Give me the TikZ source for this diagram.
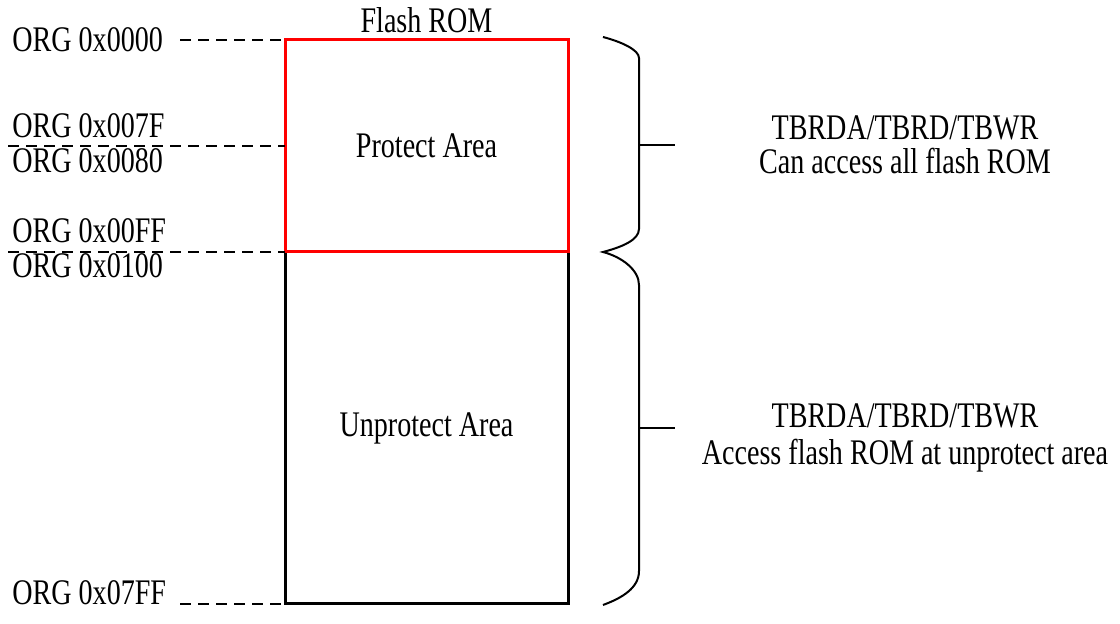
\documentclass[tikz,border=0pt]{standalone}
\usepackage{fontspec}
\setmainfont{Liberation Serif}[FakeStretch=0.78]
\usetikzlibrary{positioning}

\begin{document}
\begin{tikzpicture}[
    x=0.5pt, y=-0.5pt,
    txt/.style={font=\fontsize{18}{18}\selectfont, inner sep=0pt},
    area/.style={draw, line width=1.5pt, outer sep=0pt,
                 minimum width=141.5pt, font=\fontsize{18}{18}\selectfont},
    addr/.style={line width=1pt, dash pattern=on 5.5pt off 3.5pt},
    brace/.style={line width=1pt}
  ]
  \useasboundingbox (0,0) rectangle (1120,624);

  % flash rom map
  \node[area, minimum height=176pt] (unprot) at (426.5,428) {Unprotect Area};
  \node[area, draw=red, minimum height=106pt, above=0pt of unprot] (prot)
    {Protect Area};
  \node[txt, anchor=base] (rom) at (426.5,33) {Flash ROM};

  % addresses
  \node[txt, anchor=base west] (a0000) at (12,52)  {ORG 0x0000};
  \node[txt, anchor=base west] (a007f) at (12,138) {ORG 0x007F};
  \node[txt, anchor=base west] (a0080) at (12,173) {ORG 0x0080};
  \node[txt, anchor=base west] (a00ff) at (12,243) {ORG 0x00FF};
  \node[txt, anchor=base west] (a0100) at (12,278) {ORG 0x0100};
  \node[txt, anchor=base west] (a07ff) at (12,605) {ORG 0x07FF};
  \coordinate (d0) at (180,40);
  \coordinate (d1) at (8,146);
  \coordinate (d2) at (8,252);
  \coordinate (d3) at (180,604);
  \draw[addr] (d0) -- (prot.north west);
  \draw[addr] (d1) -- (prot.west);
  \draw[addr] (d2) -- (prot.south west);
  \draw[addr] (d3) -- (unprot.south west);

  % braces
  \draw[brace] (603,37) .. controls (622,42) and (639,50) .. (639,58)
    -- (639,229) .. controls (639,240) and (622,247) .. (603,252)
    .. controls (622,257) and (639,270) .. (639,285)
    -- (639,571) .. controls (639,588) and (622,598) .. (603,605);
  \coordinate (b1) at (639,145);
  \coordinate (b2) at (639,428);
  \draw[brace] (b1) -- ++(36,0);
  \draw[brace] (b2) -- ++(36,0);

  \node[txt, anchor=base] (cmd1) at (905,140) {TBRDA/TBRD/TBWR};
  \node[txt, anchor=base] (acc1) at (905,174) {Can access all flash ROM};
  \node[txt, anchor=base] (cmd2) at (905,428) {TBRDA/TBRD/TBWR};
  \node[txt, anchor=base] (acc2) at (905,465) {Access flash ROM at unprotect area};
\end{tikzpicture}
\end{document}
